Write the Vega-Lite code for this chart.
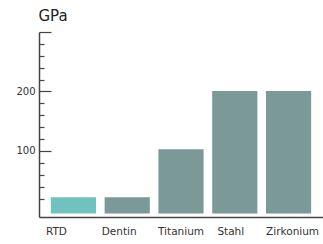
{
  "$schema": "https://vega.github.io/schema/vega-lite/v6.json",
  "autosize": "none",
  "padding": {"left": 39, "top": 32, "right": 0, "bottom": 27},
  "width": 284,
  "height": 185,
  "background": "white",
  "config": {"view": {"stroke": null}, "font": "DejaVu Sans"},
  "data": {"values": [
    {"material": "RTD", "gpa": 22, "kind": "rtd"},
    {"material": "Dentin", "gpa": 22, "kind": "other"},
    {"material": "Titanium", "gpa": 103, "kind": "other"},
    {"material": "Stahl", "gpa": 201, "kind": "other"},
    {"material": "Zirkonium", "gpa": 201, "kind": "other"}
  ]},
  "mark": {"type": "bar"},
  "encoding": {
    "x": {
      "field": "material", "type": "nominal", "sort": null,
      "scale": {"paddingInner": 0.16, "paddingOuter": 0.22},
      "axis": {
        "title": null, "labelAngle": 0, "ticks": false, "labelPadding": 9,
        "labelFontSize": 10.5, "labelColor": "#333", "domainColor": "#444", "domainWidth": 1.5,
        "labelOffset": {"condition": [{"test": "datum.value === 'RTD'", "value": -17}, {"test": "datum.value === 'Dentin'", "value": -8}, {"test": "datum.value === 'Stahl'", "value": -4}, {"test": "datum.value === 'Zirkonium'", "value": 4}], "value": 0}
      }
    },
    "y": {
      "field": "gpa", "type": "quantitative",
      "scale": {"domain": [-11, 300], "nice": false, "zero": false},
      "axis": {
        "title": "GPa", "titleAngle": 0, "titleAlign": "left", "titleBaseline": "alphabetic",
        "titleX": -1, "titleY": -12, "titleFontSize": 15, "titleFontWeight": "normal", "titleColor": "#222",
        "values": [20, 40, 60, 80, 100, 120, 140, 160, 180, 200, 220, 240, 260, 280, 300],
        "labelExpr": "datum.value === 100 || datum.value === 200 ? datum.label : ''",
        "labelFontSize": 10, "labelColor": "#333", "labelPadding": 16,
        "grid": false, "domainColor": "#444", "domainWidth": 1.5,
        "tickColor": "#444", "tickWidth": 1.2,
        "tickSize": {"condition": {"test": "datum.value % 100 === 0", "value": -12}, "value": -5}
      }
    },
    "y2": {"datum": -5},
    "color": {
      "field": "kind", "type": "nominal", "legend": null,
      "scale": {"domain": ["rtd", "other"], "range": ["#70c2be", "#7a9997"]}
    }
  }
}
